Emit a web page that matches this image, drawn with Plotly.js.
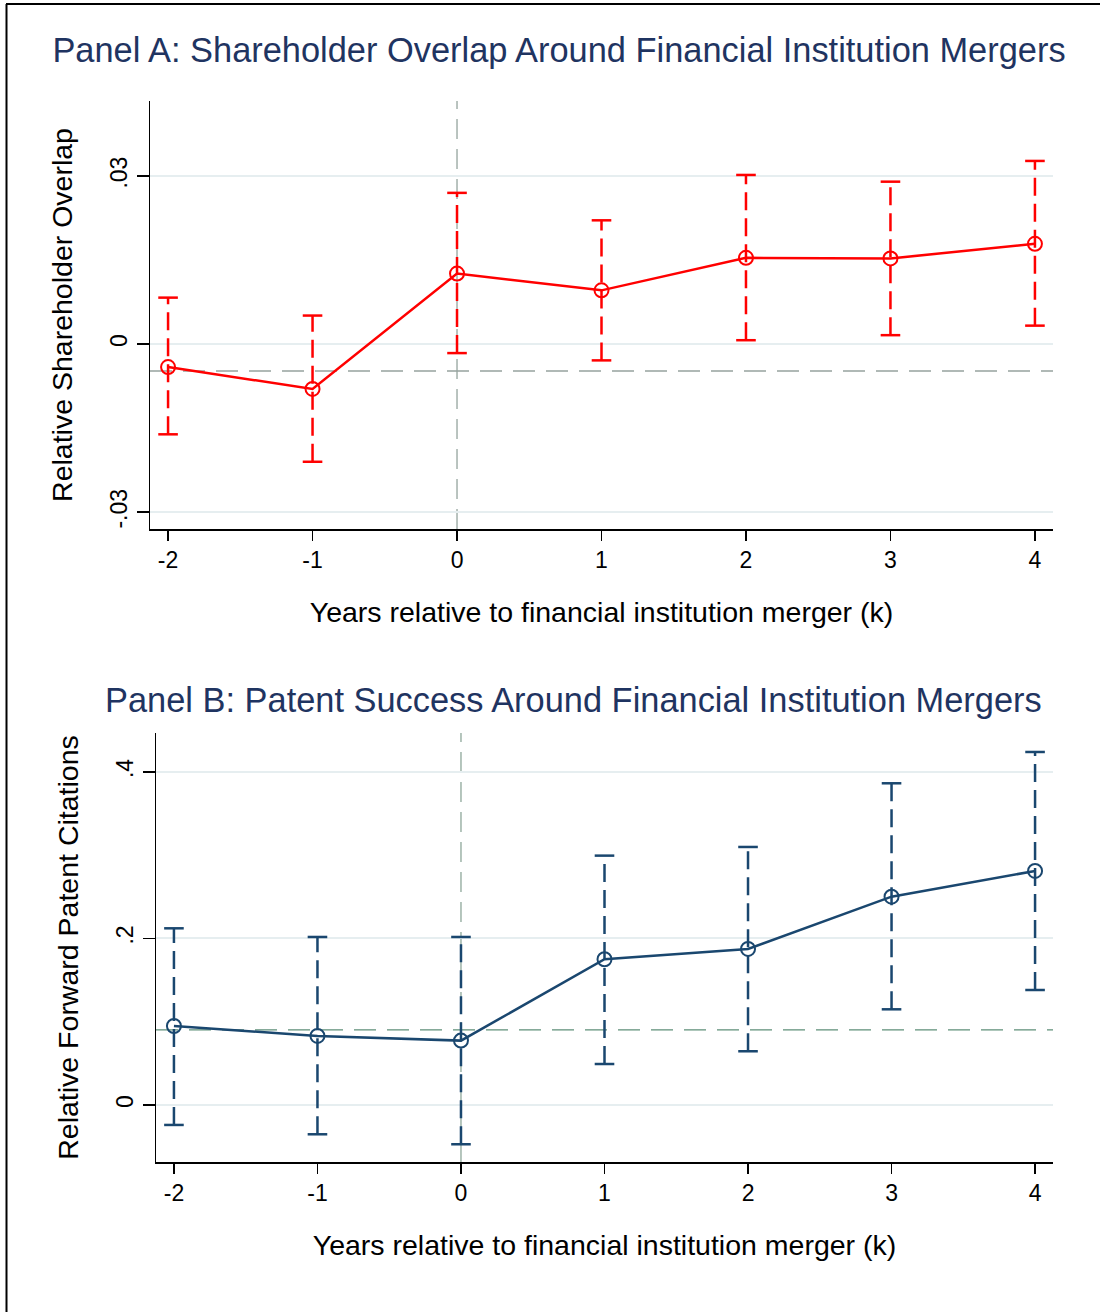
<!DOCTYPE html>
<html>
<head>
<meta charset="utf-8">
<script src="https://cdn.plot.ly/plotly-3.0.1.min.js"></script>
<style>html,body{margin:0;padding:0;background:#fff;}#chart{width:1100px;height:1312px;}</style>
</head>
<body>
<div id="chart"></div>
<script>
// ---- data ----
const years = [-2, -1, 0, 1, 2, 3, 4];
const xTickText = ['-2', '-1', '0', '1', '2', '3', '4'];

const overlapCoef = [-0.0041, -0.0080, 0.0126, 0.0096, 0.0154, 0.0153, 0.0179];
const overlapLo   = [-0.0161, -0.0210, -0.0016, -0.0029, 0.0007, 0.0016, 0.0033];
const overlapHi   = [0.0083, 0.0051, 0.0270, 0.0221, 0.0302, 0.0290, 0.0327];
const overlapTickVals = [-0.03, 0, 0.03];
const overlapTickText = ['-.03', '0', '.03'];
const overlapRef = -0.0048;

const citeCoef = [0.0949, 0.0829, 0.0773, 0.1750, 0.1874, 0.2502, 0.2811];
const citeLo   = [-0.0240, -0.0352, -0.0472, 0.0492, 0.0645, 0.1149, 0.1381];
const citeHi   = [0.2122, 0.2018, 0.2018, 0.2995, 0.3099, 0.3864, 0.4240];
const citeTickVals = [0, 0.2, 0.4];
const citeTickText = ['0', '.2', '.4'];
const citeRef = 0.0901;

const eventYear = 0;

// ---- styling ----
const FONT = '"Liberation Sans", Arial, Helvetica, sans-serif';
const RED = '#ff0000';
const NAVY = '#1a476f';
const TITLE_NAVY = '#1f3461';
const W = 1100, H = 1312;

function ciTraces(xs, lo, hi, color, xa, ya) {
  const lx = [], ly = [];
  xs.forEach((x, i) => { lx.push(x, x, null); ly.push(lo[i], hi[i], null); });
  const capX = [], capY = [];
  xs.forEach((x, i) => { capX.push(x, x); capY.push(lo[i], hi[i]); });
  return [
    {x: lx, y: ly, xaxis: xa, yaxis: ya, type: 'scatter', mode: 'lines',
     line: {color: color, width: 2.5, dash: '18px,8px'}, hoverinfo: 'skip'},
    {x: capX, y: capY, xaxis: xa, yaxis: ya, type: 'scatter', mode: 'markers',
     marker: {symbol: 'line-ew', size: 14, color: color, line: {color: color, width: 2.5}}, hoverinfo: 'skip'}
  ];
}
function pointTrace(xs, ys, color, xa, ya) {
  return {x: xs, y: ys, xaxis: xa, yaxis: ya, type: 'scatter', mode: 'lines+markers',
    line: {color: color, width: 2.5},
    marker: {symbol: 'circle-open', size: 14, color: color, line: {color: color, width: 2}}};
}

const traces = [
  ...ciTraces(years, overlapLo, overlapHi, RED, 'x', 'y'),
  pointTrace(years, overlapCoef, RED, 'x', 'y'),
  ...ciTraces(years, citeLo, citeHi, NAVY, 'x2', 'y2'),
  pointTrace(years, citeCoef, NAVY, 'x2', 'y2')
];

function xAxis(domain, anchor) {
  return {
    domain: domain, anchor: anchor, range: [-2.125, 4.125],
    tickmode: 'array', tickvals: years, ticktext: xTickText,
    ticks: 'outside', ticklen: 10, tickwidth: 1.5, tickcolor: '#000',
    showline: true, linecolor: '#000', linewidth: 1.5,
    showgrid: false, zeroline: false,
    tickfont: {family: FONT, size: 23, color: '#000'},
    title: {text: 'Years relative to financial institution merger (k)',
            font: {family: FONT, size: 28.5, color: '#000'}, standoff: 30}
  };
}
function yAxis(domain, anchor, range, tv, tt, title) {
  return {
    domain: domain, anchor: anchor, range: range,
    tickmode: 'array', tickvals: tv, ticktext: tt, tickangle: -90,
    ticks: 'outside', ticklen: 12, tickwidth: 1.5, tickcolor: '#000',
    showline: true, linecolor: '#000', linewidth: 1.5,
    showgrid: true, gridcolor: '#e6eef0', gridwidth: 2, zeroline: false,
    tickfont: {family: FONT, size: 23, color: '#000'},
    title: {text: title, font: {family: FONT, size: 28.5, color: '#000'}, standoff: 25}
  };
}

const layout = {
  width: W, height: H, autosize: false,
  margin: {l: 0, r: 0, t: 0, b: 0},
  paper_bgcolor: '#fff', plot_bgcolor: '#fff',
  showlegend: false,
  font: {family: FONT},
  title: {text: 'Panel A: Shareholder Overlap Around Financial Institution Mergers',
          x: 559 / W, xanchor: 'center', y: 1 - 50 / H, yanchor: 'middle',
          font: {family: FONT, size: 34.4, color: TITLE_NAVY}},
  xaxis: xAxis([150 / W, 1053 / W], 'y'),
  yaxis: yAxis([1 - 529 / H, 1 - 101 / H], 'x', [-0.0330, 0.0434], overlapTickVals, overlapTickText, 'Relative Shareholder Overlap'),
  xaxis2: xAxis([156 / W, 1053 / W], 'y2'),
  yaxis2: yAxis([1 - 1162 / H, 1 - 733 / H], 'x2', [-0.0685, 0.4468], citeTickVals, citeTickText, 'Relative Forward Patent Citations'),
  annotations: [
    {text: 'Panel B: Patent Success Around Financial Institution Mergers',
     xref: 'paper', yref: 'paper', x: 573.5 / W, y: 1 - 700 / H, xanchor: 'center', yanchor: 'middle',
     showarrow: false, font: {family: FONT, size: 34.4, color: TITLE_NAVY}}
  ],
  shapes: [
    {type: 'line', xref: 'x', yref: 'y domain', x0: eventYear, x1: eventYear, y0: 0, y1: 1,
     line: {color: '#a3b0ab', width: 1.5, dash: '20px,10px'}, layer: 'below'},
    {type: 'line', xref: 'x domain', yref: 'y', x0: 0, x1: 1, y0: overlapRef, y1: overlapRef,
     line: {color: '#97a39e', width: 1.5, dash: '22px,11px'}, layer: 'below'},
    {type: 'line', xref: 'x2', yref: 'y2 domain', x0: eventYear, x1: eventYear, y0: 0, y1: 1,
     line: {color: '#9db3a8', width: 1.5, dash: '20px,10px'}, layer: 'below'},
    {type: 'line', xref: 'x2 domain', yref: 'y2', x0: 0, x1: 1, y0: citeRef, y1: citeRef,
     line: {color: '#5e8f78', width: 1.2, dash: '22px,11px'}, layer: 'below'},
    {type: 'line', xref: 'paper', yref: 'paper', x0: 6 / W, x1: 1, y0: 1 - 4 / H, y1: 1 - 4 / H,
     line: {color: '#000', width: 2}},
    {type: 'line', xref: 'paper', yref: 'paper', x0: 6.5 / W, x1: 6.5 / W, y0: 0, y1: 1 - 4 / H,
     line: {color: '#000', width: 2}}
  ]
};

Plotly.newPlot('chart', traces, layout, {displayModeBar: false, staticPlot: true});
</script>
</body>
</html>
